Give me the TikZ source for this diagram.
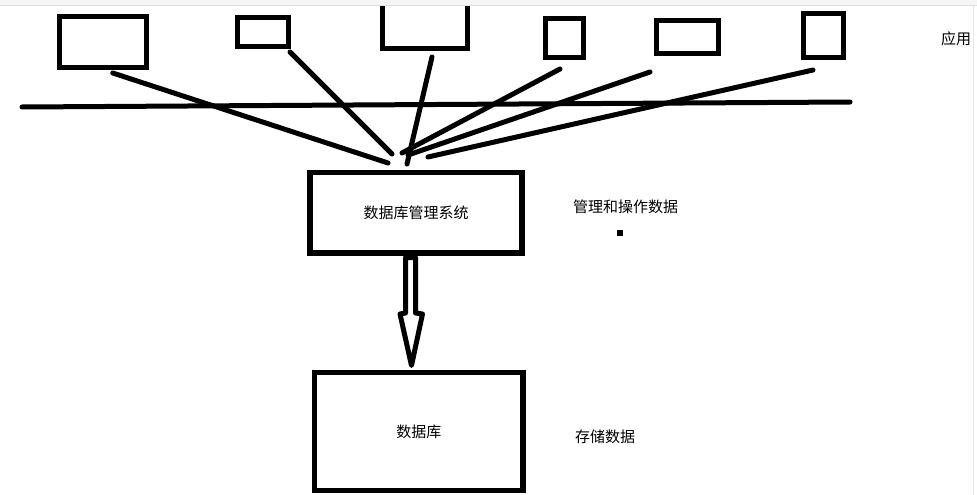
\documentclass[tikz,border=0pt]{standalone}
\usepackage{fontspec}
\newfontfamily\cjk{Noto Sans CJK SC}
\usetikzlibrary{positioning,calc}

\begin{document}
\begin{tikzpicture}[x=1pt, y=-1pt, line cap=round,
    pen/.style={line width=5pt},
    appbox/.style={draw, line width=5pt, inner sep=0pt, outer sep=0pt},
    sysbox/.style={draw, line width=5.3pt, inner sep=0pt, outer sep=0pt,
                   font=\cjk\fontsize{15}{18}\selectfont},
    note/.style={font=\cjk\fontsize{15}{18}\selectfont, inner sep=0pt}]
\useasboundingbox (0,0) rectangle (977,495);
\clip (0,0) rectangle (977,495);

% applications on top
\node[appbox, minimum width=86.5pt, minimum height=51pt] (app1) at (102.75,42) {};
\node[appbox, minimum width=51pt, minimum height=29pt] (app2) at (263,32) {};
\node[appbox, minimum width=84.5pt, minimum height=58pt] (app3) at (424.75,19.5) {};
\node[appbox, minimum width=38.5pt, minimum height=39pt] (app4) at (564.25,38) {};
\node[appbox, minimum width=62pt, minimum height=33pt] (app5) at (687,37.5) {};
\node[appbox, minimum width=40.5pt, minimum height=43.5pt] (app6) at (823.25,35.75) {};
\node[note] (applabel) at (956,39) {应用};

% the bus line
\coordinate (busL) at (22,107);
\coordinate (busR) at (850,102);
\draw[pen] (busL) -- (busR);

% DBMS and database
\node[sysbox, minimum width=212pt, minimum height=80.5pt] (dbms) at (416,212.75) {数据库管理系统};
\node[sysbox, minimum width=208.5pt, minimum height=118pt] (db) at (418.75,431.5) {数据库};

% spokes from the applications
\draw[pen] ($(app1.south)+(10,5.5)$) -- ($(dbms.north)+(-28,-9.5)$);
\draw[pen] ($(app2.south)+(27,5.5)$) -- ($(dbms.north)+(-24,-18.5)$);
\draw[pen] ($(app3.south)+(7.25,8.5)$) -- ($(dbms.north)+(-9,-8.5)$);
\draw[pen] ($(app4.south)+(-4.25,11.5)$) -- ($(dbms.north)+(-14,-19.5)$);
\draw[pen] ($(app5.south)+(-37,18)$) -- ($(dbms.north)+(-8,-17.5)$);
\draw[pen] ($(app6.south)+(-10.25,12.5)$) -- ($(dbms.north)+(12,-15.5)$);

% hollow arrow down
\draw[pen, line join=round] ($(dbms.south)+(-10.5,4.5)$) -- ($(dbms.south)+(-0.5,4.5)$)
  -- ($(dbms.south)+(-0.5,60)$) -- ($(dbms.south)+(6.5,61)$)
  -- ($(db.north)+(-7.25,-7)$)
  -- ($(dbms.south)+(-16,61)$) -- ($(dbms.south)+(-10.5,60)$) -- cycle;

% notes on the right
\node[note] (mgmt) at (625.5,207) {管理和操作数据};
\node[fill, minimum size=6pt, inner sep=0pt, below=16pt of mgmt, xshift=-5.5pt] (dot) {};
\node[note] (store) at (605,437) {存储数据};

% window frame
\fill[gray!8] (0,0) rectangle (977,5);
\draw[gray!25, line width=0.8pt] (0,5) -- (977,5);
\draw[gray!20, line width=0.8pt] (973,5) -- (973,495);
\end{tikzpicture}
\end{document}
